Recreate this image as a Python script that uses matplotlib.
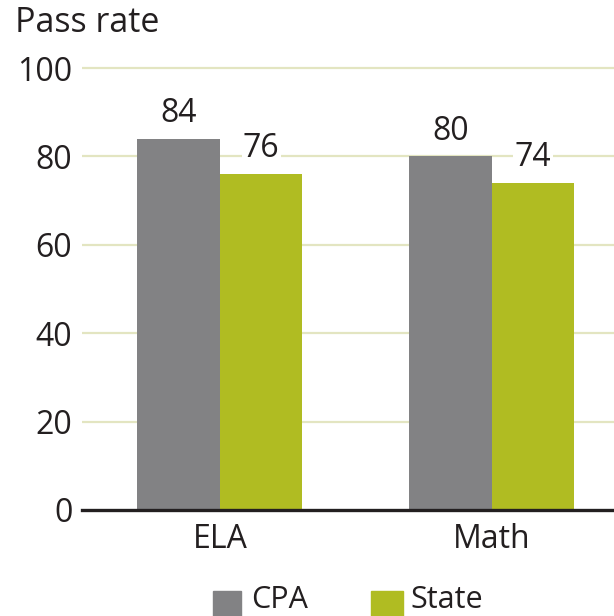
import matplotlib.pyplot as plt
import numpy as np

plt.rcParams["font.family"] = ["Open Sans", "DejaVu Sans"]

categories = ["ELA", "Math"]
cpa = [84, 80]
state = [76, 74]
yticks = [0, 20, 40, 60, 80, 100]

gray = (130 / 255, 130 / 255, 132 / 255)
olive = (176 / 255, 188 / 255, 34 / 255)
grid_col = (227 / 255, 229 / 255, 193 / 255)
ink = (35 / 255, 31 / 255, 32 / 255)

fig = plt.figure(figsize=(6.14, 6.16), dpi=100)
ax = fig.add_axes([82 / 614, (616 - 510) / 616, 1 - 82 / 614, (510 - 59.2) / 616])

x = np.arange(len(categories))
w = 0.303
ax.bar(x - w / 2, cpa, width=w, color=gray, zorder=2)
ax.bar(x + w / 2, state, width=w, color=olive, zorder=2)

for t in yticks[1:]:
    ax.axhline(t, color=grid_col, linewidth=1.6, zorder=1)

for i in range(len(categories)):
    ax.text(x[i] - w / 2, cpa[i] + 2.0, str(cpa[i]), ha="center", va="bottom",
            fontsize=23, color=ink, zorder=3,
            bbox=dict(facecolor="white", edgecolor="none", pad=1))
    ax.text(x[i] + w / 2, state[i] + 2.0, str(state[i]), ha="center", va="bottom",
            fontsize=23, color=ink, zorder=3,
            bbox=dict(facecolor="white", edgecolor="none", pad=1))

ax.set_xlim(-0.507, 1.449)
ax.set_ylim(0, 102)
ax.set_yticks(yticks)
ax.set_yticklabels([str(t) for t in yticks], fontsize=23, color=ink)
ax.set_xticks(x)
ax.set_xticklabels(categories, fontsize=23, color=ink)
ax.tick_params(axis="both", length=0, pad=7)
ax.tick_params(axis="x", pad=9)

for s in ["top", "right", "left"]:
    ax.spines[s].set_visible(False)
ax.spines["bottom"].set_color(ink)
ax.spines["bottom"].set_linewidth(2.4)
ax.spines["bottom"].set_zorder(4)

fig.text(15 / 614, 1 - 6 / 616, "Pass rate", fontsize=24.5, color=ink, ha="left", va="top")

# legend along the bottom edge
fig.patches.append(plt.Rectangle((213 / 614, 0), 28 / 614, 25 / 616, transform=fig.transFigure,
                                 color=gray))
fig.text(251 / 614, 1 / 616, "CPA", fontsize=22, color=ink, ha="left", va="bottom")
fig.patches.append(plt.Rectangle((371 / 614, 0), 32 / 614, 25 / 616, transform=fig.transFigure,
                                 color=olive))
fig.text(410 / 614, 1 / 616, "State", fontsize=22, color=ink, ha="left", va="bottom")

fig.savefig("out.png", dpi=100)
